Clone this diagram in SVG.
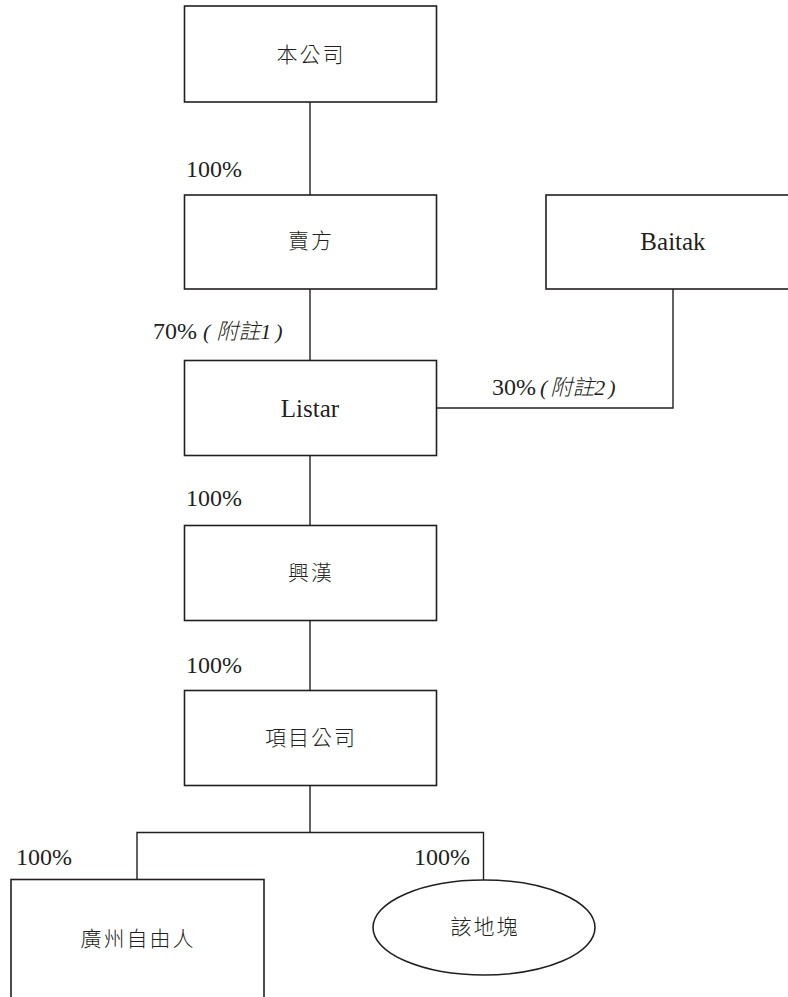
<svg xmlns="http://www.w3.org/2000/svg" width="788" height="997" viewBox="0 0 788 997">
<style>
.box{fill:#fff;stroke:#231f20;stroke-width:1.6}
.ln{fill:none;stroke:#231f20;stroke-width:1.4}
.cjk{font-family:"Liberation Serif","Noto Sans CJK TC",serif;font-size:21px;fill:#231f20;text-anchor:middle;dominant-baseline:central;font-weight:300;letter-spacing:2px}
.lat{font-family:"Liberation Serif",serif;font-size:25px;fill:#231f20;text-anchor:middle}
.pct{font-family:"Liberation Serif","Noto Sans CJK TC",serif;font-size:24px;fill:#231f20}
.it{font-style:italic;font-size:22px;font-weight:300}
</style>
<rect width="788" height="997" fill="#fff"/>
<g id="connectors">
<path class="ln" d="M310 102V195"/>
<path class="ln" d="M310 289V360"/>
<path class="ln" d="M673 289V408H437"/>
<path class="ln" d="M310 455V525"/>
<path class="ln" d="M310 620V690"/>
<path class="ln" d="M310 786V832.5M137 879.5V832.5H483.5V880"/>
</g>
<g id="labels">
<text class="pct" x="186" y="177">100%</text>
<text class="pct" x="153" y="339"><tspan>70%</tspan><tspan class="it" x="203">(</tspan><tspan class="it" dx="6">附註1</tspan><tspan class="it" dx="4">)</tspan></text>
<text class="pct" x="492" y="395"><tspan>30%</tspan><tspan class="it" x="540">(</tspan><tspan class="it" dx="3">附註2</tspan><tspan class="it" dx="3">)</tspan></text>
<text class="pct" x="186" y="506">100%</text>
<text class="pct" x="186" y="673">100%</text>
<text class="pct" x="16" y="865">100%</text>
<text class="pct" x="414" y="865">100%</text>
</g>
<g id="company"><rect class="box" x="184.5" y="6" width="252" height="96"/><text class="cjk" x="311" y="55">本公司</text></g>
<g id="seller"><rect class="box" x="184.5" y="195" width="252" height="94"/><text class="cjk" x="311" y="241">賣方</text></g>
<g id="baitak"><rect class="box" x="546" y="195" width="254" height="94"/><text class="lat" x="673" y="250">Baitak</text></g>
<g id="listar"><rect class="box" x="184.5" y="360.5" width="252" height="95"/><text class="lat" x="310" y="417">Listar</text></g>
<g id="xinghan"><rect class="box" x="184.5" y="525.5" width="252" height="95"/><text class="cjk" x="311" y="573">興漢</text></g>
<g id="project"><rect class="box" x="184.5" y="690.5" width="252" height="95"/><text class="cjk" x="311" y="738">項目公司</text></g>
<g id="guangzhou"><rect class="box" x="11" y="879.5" width="253" height="140"/><text class="cjk" x="138" y="939">廣州自由人</text></g>
<g id="land"><ellipse class="box" cx="484" cy="927.5" rx="111" ry="47.5"/><text class="cjk" x="485" y="927">該地塊</text></g>
</svg>
